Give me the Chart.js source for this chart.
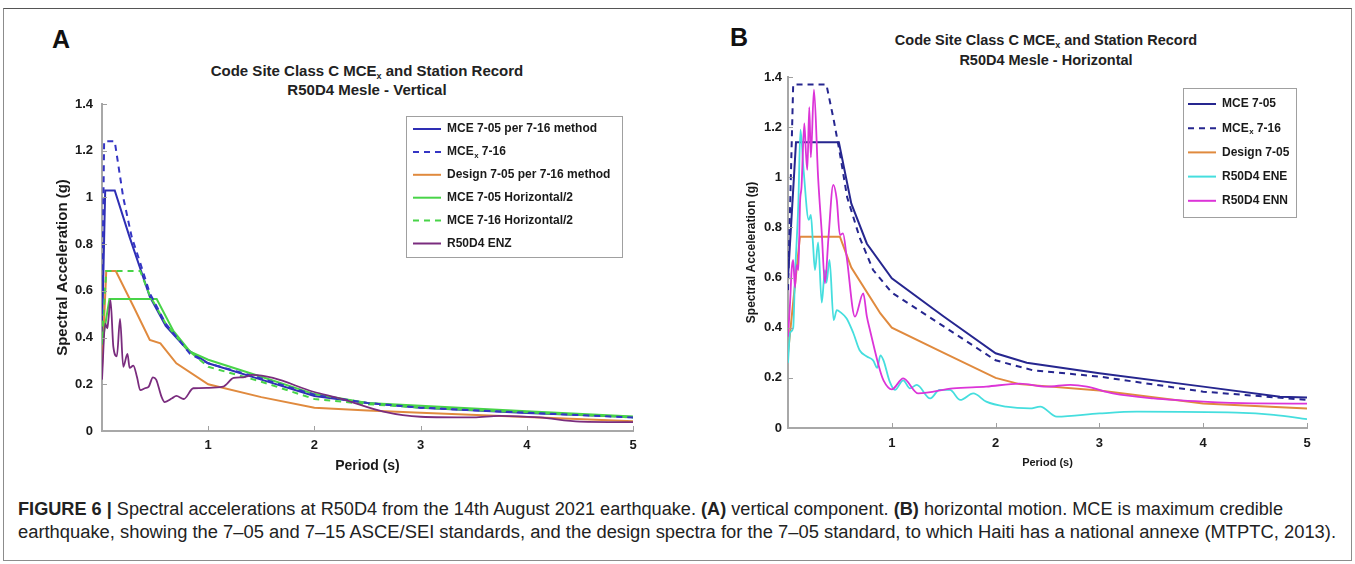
<!DOCTYPE html>
<html>
<head>
<meta charset="utf-8">
<script src="https://cdn.jsdelivr.net/npm/chart.js@4.4.1/dist/chart.umd.min.js"></script>
<style>
  body { margin: 0; background: #fff; width: 1355px; height: 564px; overflow: hidden; font-family: "Liberation Sans", Arial, sans-serif; }
  #frame { position: absolute; left: 3px; top: 8px; width: 1347px; height: 551px; border: 1px solid #8c8c8c; border-top-color: #555; }
  canvas { position: absolute; }
  .letter { position: absolute; font-weight: bold; font-size: 25px; line-height: 25px; color: #111; }
  .ttl { position: absolute; width: 420px; text-align: center; font-weight: bold; color: #222; }
  .ttl sub { font-size: 9px; vertical-align: baseline; position: relative; top: 3px; line-height: 0; }
  .cap { position: absolute; left: 18px; font-size: 18px; line-height: 20px; white-space: nowrap; transform-origin: 0 0; color: #222; }
</style>
</head>
<body>
<div id="frame"></div>
<div class="letter" style="left:52px;top:27px">A</div>
<div class="letter" style="left:730px;top:25px">B</div>
<div class="ttl" style="left:157px;top:61px;font-size:15px;line-height:19px">Code Site Class C MCE<sub>x</sub> and Station Record<br>R50D4 Mesle - Vertical</div>
<div class="ttl" style="left:836px;top:30px;font-size:14.5px;line-height:20px">Code Site Class C MCE<sub>x</sub> and Station Record<br>R50D4 Mesle - Horizontal</div>
<canvas id="chartA" width="630" height="420" style="left:20px;top:60px"></canvas>
<canvas id="chartB" width="640" height="460" style="left:700px;top:20px"></canvas>
<div class="cap" id="cap1" style="top:499px"><b>FIGURE 6 |</b> Spectral accelerations at R50D4 from the 14th August 2021 earthquake. <b>(A)</b> vertical component. <b>(B)</b> horizontal motion. MCE is maximum credible</div>
<div class="cap" id="cap2" style="top:522px">earthquake, showing the 7–05 and 7–15 ASCE/SEI standards, and the design spectra for the 7–05 standard, to which Haiti has a national annexe (MTPTC, 2013).</div>

<script>
const FONT = "'Liberation Sans', Arial, Helvetica, sans-serif";

// Panel A - vertical component
const tA_mce = [0, 0.03, 0.12, 0.26, 0.45, 0.6, 0.8, 1, 1.5, 2, 2.5, 3, 4, 5];
const saA_mce = [0.41, 1.03, 1.03, 0.83, 0.575, 0.45, 0.35, 0.29, 0.22, 0.15, 0.12, 0.10, 0.077, 0.06];
const tA_mcex = [0, 0.02, 0.12, 0.2, 0.28, 0.36, 0.45, 0.6, 0.83, 1, 1.5, 2, 2.5, 3, 4, 5];
const saA_mcex = [0.5, 1.24, 1.24, 1.0, 0.83, 0.72, 0.59, 0.46, 0.33, 0.29, 0.225, 0.155, 0.12, 0.10, 0.078, 0.058];
const tA_des = [0, 0.04, 0.13, 0.3, 0.45, 0.55, 0.7, 1, 1.5, 2, 2.5, 3, 4, 5];
const saA_des = [0.27, 0.685, 0.685, 0.53, 0.39, 0.375, 0.29, 0.20, 0.145, 0.10, 0.088, 0.078, 0.06, 0.042];
const tA_mceH = [0, 0.07, 0.515, 0.67, 0.83, 1, 1.5, 2, 2.5, 3, 4, 5];
const saA_mceH = [0.37, 0.565, 0.565, 0.43, 0.34, 0.305, 0.232, 0.158, 0.12, 0.108, 0.085, 0.062];
const tA_mcexH = [0, 0.04, 0.36, 0.45, 0.6, 0.8, 1, 1.5, 2, 2.5, 3, 4, 5];
const saA_mcexH = [0.4, 0.685, 0.685, 0.58, 0.46, 0.35, 0.275, 0.211, 0.137, 0.115, 0.1, 0.08, 0.058];
const tA_enz = [0, 0.03, 0.05, 0.06, 0.08, 0.107, 0.14, 0.17, 0.2, 0.24, 0.26, 0.295, 0.33, 0.36, 0.405, 0.44, 0.48, 0.51, 0.56, 0.59,
  0.66, 0.70, 0.77, 0.86, 1.0, 1.14, 1.24, 1.33, 1.42, 1.61, 1.99, 2.24, 2.65, 3.0, 3.5, 3.74, 4.12, 4.5, 5];
const saA_enz = [0.22, 0.46, 0.44, 0.475, 0.56, 0.36, 0.32, 0.48, 0.275, 0.33, 0.27, 0.28, 0.23, 0.175, 0.183, 0.19, 0.23, 0.22, 0.147, 0.124,
  0.14, 0.15, 0.137, 0.183, 0.185, 0.19, 0.227, 0.23, 0.24, 0.227, 0.168, 0.14, 0.083, 0.061, 0.058, 0.065, 0.058, 0.04, 0.038];

// Panel B - horizontal motion
const tB_mce = [0, 0.077, 0.49, 0.61, 0.76, 1, 1.5, 2, 2.3, 3, 4, 4.74, 5];
const saB_mce = [0.60, 1.14, 1.14, 0.895, 0.735, 0.597, 0.445, 0.298, 0.26, 0.218, 0.165, 0.125, 0.122];
const tB_mcex = [0, 0.05, 0.37, 0.44, 0.5, 0.57, 0.69, 0.82, 1, 1.5, 2, 2.36, 3, 4, 5];
const saB_mcex = [0.55, 1.37, 1.37, 1.23, 1.095, 0.92, 0.76, 0.63, 0.54, 0.405, 0.27, 0.23, 0.205, 0.145, 0.112];
const tB_des = [0, 0.115, 0.5, 0.61, 0.89, 1, 1.5, 2, 2.23, 3, 4, 5];
const saB_des = [0.30, 0.763, 0.763, 0.64, 0.457, 0.40, 0.30, 0.20, 0.175, 0.15, 0.098, 0.078];
const tB_ene = [0, 0.02, 0.05, 0.067, 0.10, 0.12, 0.15, 0.20, 0.22, 0.24, 0.26, 0.29, 0.325, 0.356, 0.37, 0.40, 0.44, 0.47, 0.51, 0.565,
  0.63, 0.69, 0.76, 0.82, 0.86, 0.89, 0.92, 0.98, 1.03, 1.11, 1.175, 1.24, 1.37, 1.46, 1.56, 1.66, 1.785, 1.91, 2.1, 2.33,
  2.43, 2.59, 3.0, 3.36, 4.32, 4.68, 5];
const saB_ene = [0.26, 0.38, 0.40, 0.60, 0.90, 1.19, 1.03, 0.83, 0.85, 0.74, 0.63, 0.74, 0.50, 0.63, 0.58, 0.67, 0.43, 0.47, 0.46, 0.437,
  0.378, 0.31, 0.285, 0.27, 0.24, 0.29, 0.27, 0.185, 0.152, 0.19, 0.158, 0.172, 0.118, 0.152, 0.152, 0.112, 0.138, 0.105, 0.085, 0.078,
  0.085, 0.045, 0.058, 0.065, 0.061, 0.052, 0.035];
const tB_enn = [0, 0.02, 0.035, 0.05, 0.067, 0.083, 0.10, 0.116, 0.13, 0.157, 0.173, 0.186, 0.205, 0.22, 0.25, 0.29, 0.325, 0.356, 0.39, 0.436,
  0.47, 0.5, 0.53, 0.565, 0.645, 0.725, 0.76, 0.79, 0.886, 0.92, 1.0, 1.11, 1.255, 1.59, 1.91, 2.23, 2.49, 2.72, 2.88, 3.13,
  3.52, 4.0, 4.48, 5];
const saB_enn = [0.364, 0.50, 0.63, 0.67, 0.56, 0.65, 0.63, 0.90, 0.96, 1.215, 1.096, 1.03, 1.28, 1.08, 1.35, 1.0, 0.78, 0.577, 0.76, 0.97,
  0.91, 0.77, 0.776, 0.683, 0.444, 0.537, 0.444, 0.39, 0.23, 0.19, 0.154, 0.198, 0.138, 0.158, 0.165, 0.177, 0.165, 0.172, 0.165, 0.138,
  0.118, 0.105, 0.098, 0.097];

const xTicks = [0, 1, 2, 3, 4, 5];
const yTicks = [0, 0.2, 0.4, 0.6, 0.8, 1, 1.2, 1.4];

function pts(t, s) {
  return t.map((v, i) => ({ x: v, y: s[i] }));
}

function series(label, t, s, color, extra) {
  return Object.assign({
    label: label,
    data: pts(t, s),
    borderColor: color,
    backgroundColor: color,
    borderWidth: 2,
    pointRadius: 0,
    tension: 0,
    fill: false
  }, extra);
}

// text with a subscript x where the label says "_x"
function drawRich(ctx, str, x, y, size) {
  const parts = str.split('_x');
  ctx.font = 'bold ' + size + 'px ' + FONT;
  ctx.fillText(parts[0], x, y);
  if (parts.length < 2) return;
  let cx = x + ctx.measureText(parts[0]).width + 0.5;
  ctx.font = 'bold ' + (size * 0.65) + 'px ' + FONT;
  ctx.fillText('x', cx, y + size * 0.3);
  cx += ctx.measureText('x').width;
  ctx.font = 'bold ' + size + 'px ' + FONT;
  ctx.fillText(parts[1], cx, y);
}

// legend drawn as a framed box inside the plot, like the original
const boxLegend = {
  id: 'boxLegend',
  afterDraw(chart, args, o) {
    const { ctx, chartArea: a } = chart;
    const x0 = a.left + o.dx, y0 = a.top + o.dy;
    ctx.save();
    ctx.fillStyle = '#fff';
    ctx.fillRect(x0, y0, o.w, o.h);
    ctx.strokeStyle = '#a0a0a0';
    ctx.lineWidth = 1;
    ctx.strokeRect(x0 + 0.5, y0 + 0.5, o.w, o.h);
    ctx.textBaseline = 'middle';
    ctx.fillStyle = '#1a1a1a';
    chart.data.datasets.forEach((ds, i) => {
      const yy = y0 + o.first + i * o.row;
      ctx.beginPath();
      ctx.strokeStyle = ds.borderColor;
      ctx.lineWidth = 2;
      ctx.setLineDash(ds.borderDash || []);
      ctx.moveTo(x0 + o.l0, yy);
      ctx.lineTo(x0 + o.l1, yy);
      ctx.stroke();
      ctx.setLineDash([]);
      drawRich(ctx, ds.label, x0 + o.tx, yy, o.size);
    });
    ctx.restore();
  }
};

// short tick marks pointing into the plot
const innerTicks = {
  id: 'innerTicks',
  afterDatasetsDraw(chart) {
    const { ctx, chartArea: a, scales } = chart;
    ctx.save();
    ctx.strokeStyle = '#a0a0a0';
    ctx.lineWidth = 1;
    xTicks.forEach(v => {
      if (v === 0) return;
      const px = Math.round(scales.x.getPixelForValue(v)) + 0.5;
      ctx.beginPath(); ctx.moveTo(px, a.bottom); ctx.lineTo(px, a.bottom - 5); ctx.stroke();
    });
    yTicks.forEach(v => {
      if (v === 0) return;
      const py = Math.round(scales.y.getPixelForValue(v)) + 0.5;
      ctx.beginPath(); ctx.moveTo(a.left, py); ctx.lineTo(a.left + 5, py); ctx.stroke();
    });
    ctx.restore();
  }
};

function makeChart(id, datasets, p) {
  return new Chart(document.getElementById(id), {
    type: 'line',
    data: { datasets: datasets },
    plugins: [innerTicks, boxLegend],
    options: {
      responsive: false,
      animation: false,
      devicePixelRatio: 1,
      layout: { padding: { top: p.padTop, right: p.padRight, bottom: 0, left: 0 } },
      plugins: {
        legend: { display: false },
        tooltip: { enabled: false },
        boxLegend: p.legend
      },
      scales: {
        x: {
          type: 'linear', min: 0, max: 5,
          afterBuildTicks: s => { s.ticks = xTicks.map(v => ({ value: v })); },
          afterFit: s => { s.height = p.xHeight; },
          grid: { drawOnChartArea: false, drawTicks: false },
          border: { color: '#a8a8a8', width: 2 },
          ticks: {
            padding: p.xPad, color: '#1a1a1a', maxRotation: 0,
            font: { size: 13, weight: 'bold', family: FONT },
            callback: v => (v === 0 ? '' : v)
          },
          title: {
            display: true, text: 'Period (s)', color: '#1a1a1a',
            font: { size: p.xTitleSize, weight: 'bold', family: FONT },
            padding: { top: 0, bottom: p.xTitlePad }
          }
        },
        y: {
          min: 0, max: 1.4,
          afterBuildTicks: s => { s.ticks = yTicks.map(v => ({ value: v })); },
          afterFit: s => { s.width = p.yWidth; },
          grid: { drawOnChartArea: false, drawTicks: false },
          border: { color: '#a8a8a8', width: 2 },
          ticks: {
            padding: p.yPad, color: '#1a1a1a',
            font: { size: 13, weight: 'bold', family: FONT },
            callback: v => String(+v.toFixed(1))
          },
          title: {
            display: true, text: 'Spectral Acceleration (g)', color: '#1a1a1a',
            font: { size: p.yTitleSize, weight: 'bold', family: FONT },
            padding: { top: p.yTitlePad, bottom: 0 }
          }
        }
      }
    }
  });
}

const blue = '#2e2eb4';
const navy = '#26268f';
const orange = '#e08a3e';
const green = '#48d448';

makeChart('chartA', [
  series('MCE 7-05 per 7-16 method', tA_mce, saA_mce, blue, { order: 5 }),
  series('MCE_x 7-16', tA_mcex, saA_mcex, '#3535c4', { borderDash: [6, 5], order: 2 }),
  series('Design 7-05 per 7-16 method', tA_des, saA_des, orange, { order: 4 }),
  series('MCE 7-05 Horizontal/2', tA_mceH, saA_mceH, green, { order: 3 }),
  series('MCE 7-16 Horizontal/2', tA_mcexH, saA_mcexH, green, { borderDash: [6, 5], order: 3 }),
  series('R50D4 ENZ', tA_enz, saA_enz, '#7a2c7e', { borderWidth: 1.8, cubicInterpolationMode: 'monotone', order: 1 })
], {
  padTop: 44, padRight: 17, xHeight: 49, yWidth: 82, xPad: 7, yPad: 9,
  xTitleSize: 14, xTitlePad: 5.6, yTitleSize: 15, yTitlePad: 34,
  legend: { dx: 304, dy: 12, w: 216, h: 141, first: 13, row: 22.9, l0: 7, l1: 35, tx: 41, size: 12 }
});

makeChart('chartB', [
  series('MCE 7-05', tB_mce, saB_mce, navy, { order: 4 }),
  series('MCE_x 7-16', tB_mcex, saB_mcex, navy, { borderDash: [6, 5], order: 3 }),
  series('Design 7-05', tB_des, saB_des, orange, { order: 5 }),
  series('R50D4 ENE', tB_ene, saB_ene, '#45dede', { borderWidth: 1.8, cubicInterpolationMode: 'monotone', order: 2 }),
  series('R50D4 ENN', tB_enn, saB_enn, '#dc34d8', { borderWidth: 1.8, cubicInterpolationMode: 'monotone', order: 1 })
], {
  padTop: 57, padRight: 33, xHeight: 52, yWidth: 88, xPad: 8, yPad: 6,
  xTitleSize: 11, xTitlePad: 10.4, yTitleSize: 12, yTitlePad: 44.8,
  legend: { dx: 395, dy: 11, w: 113, h: 129, first: 16, row: 24.2, l0: 5, l1: 33, tx: 39, size: 12 }
});

// squeeze the caption lines to the width they have in the figure
function fitCaption(id, target) {
  const el = document.getElementById(id);
  const w = el.getBoundingClientRect().width;
  el.style.transform = 'scaleX(' + (target / w) + ')';
}
document.fonts.ready.then(() => {
  fitCaption('cap1', 1265);
  fitCaption('cap2', 1318);
});
</script>
</body>
</html>
